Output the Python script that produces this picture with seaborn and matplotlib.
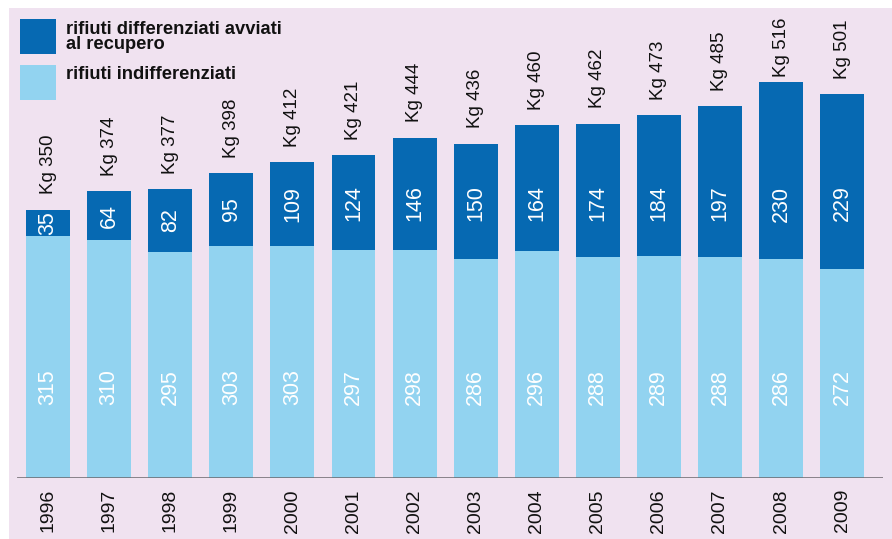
import matplotlib
matplotlib.use("Agg")
import matplotlib.pyplot as plt
import seaborn as sns
from matplotlib.patches import Rectangle

years = ["1996", "1997", "1998", "1999", "2000", "2001", "2002",
         "2003", "2004", "2005", "2006", "2007", "2008", "2009"]
indifferenziati = [315, 310, 295, 303, 303, 297, 298, 286, 296, 288, 289, 288, 286, 272]
differenziati = [35, 64, 82, 95, 109, 124, 146, 150, 164, 174, 184, 197, 230, 229]
totali = [350, 374, 377, 398, 412, 421, 444, 436, 460, 462, 473, 485, 516, 501]

dark = "#0669B2"
light = "#92D3F0"
pink = "#F0E2F0"

sns.set_theme(style="white")
plt.rcParams["font.family"] = ["Liberation Sans", "DejaVu Sans"]

fig = plt.figure(figsize=(8.92, 5.39), dpi=100)
fig.patch.set_facecolor("white")
fig.add_artist(Rectangle((9 / 892, 0), 1, 1 - 8 / 539, transform=fig.transFigure,
                         facecolor=pink, edgecolor="none", zorder=0))

ax = fig.add_axes([17 / 892, 61 / 539, 866 / 892, 470 / 539])
ax.set_facecolor("none")

# totals drawn in dark, light part on top of them
sns.barplot(x=years, y=totali, color=dark, saturation=1, width=0.72,
            linewidth=0, ax=ax)
sns.barplot(x=years, y=indifferenziati, color=light, saturation=1, width=0.72,
            linewidth=0, ax=ax)

ax.set_xlim(-0.51, 13.67)
ax.set_ylim(0, 613)
for s in ax.spines.values():
    s.set_visible(False)
ax.axhline(0, color="#6A666B", lw=1.8, zorder=5)
ax.set(xlabel="", ylabel="", yticks=[])
ax.tick_params(axis="x", length=0, pad=8)
ax.set_xticks(range(len(years)))
ax.set_xticklabels(years, rotation=90, fontsize=14, color="#111111")

for i in range(len(years)):
    ax.text(i, 119, str(indifferenziati[i]), rotation=90, ha="center", va="center",
            color="white", fontsize=15.5)
    mid = indifferenziati[i] + differenziati[i] / 2
    ax.text(i, min(mid, 358), str(differenziati[i]), rotation=90, ha="center",
            va="center", color="white", fontsize=15.5)
    ax.text(i, min(totali[i] + 20, 523), "Kg " + str(totali[i]), rotation=90,
            ha="center", va="bottom", color="#111111", fontsize=13.5)

# legend
fig.add_artist(Rectangle((20 / 892, 1 - 54 / 539), 36 / 892, 35 / 539,
                         transform=fig.transFigure, facecolor=dark, edgecolor="none"))
fig.add_artist(Rectangle((20 / 892, 1 - 100 / 539), 36 / 892, 35 / 539,
                         transform=fig.transFigure, facecolor=light, edgecolor="none"))
fig.text(66 / 892, 1 - 21 / 539, "rifiuti differenziati avviati\nal recupero",
         fontsize=13.2, fontweight="bold", va="top", ha="left", linespacing=0.88,
         color="#111111")
fig.text(66 / 892, 1 - 66 / 539, "rifiuti indifferenziati",
         fontsize=13.2, fontweight="bold", va="top", ha="left", color="#111111")

fig.savefig("out.png", dpi=100)
